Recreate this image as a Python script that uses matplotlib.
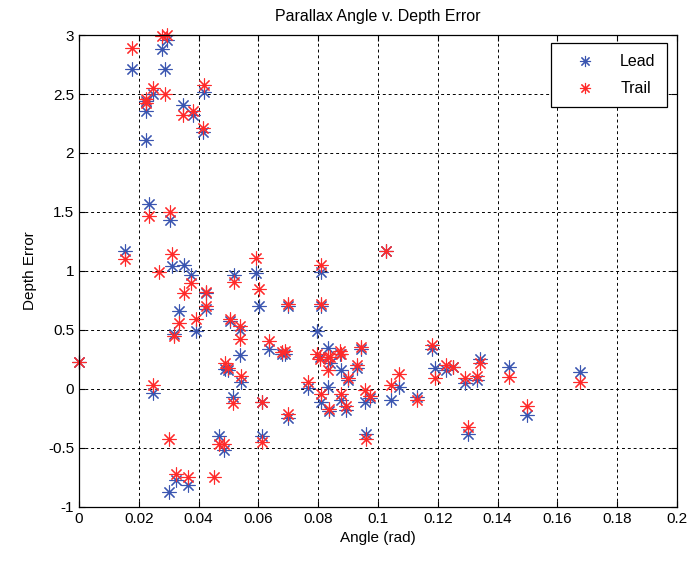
import numpy as np
import matplotlib.pyplot as plt
from matplotlib.ticker import FuncFormatter, MultipleLocator

# angle (rad) with lead / trail depth error
angle = [0.0000, 0.0153, 0.0176, 0.0223, 0.0225, 0.0223, 0.0233, 0.0248, 0.0248, 0.0268,
         0.0276, 0.0287, 0.0296, 0.0300, 0.0303, 0.0312, 0.0317, 0.0324, 0.0334, 0.0348,
         0.0351, 0.0365, 0.0376, 0.0381, 0.0390, 0.0414, 0.0418, 0.0424, 0.0424, 0.0450,
         0.0468, 0.0484, 0.0490, 0.0497, 0.0504, 0.0515, 0.0518, 0.0540, 0.0540, 0.0543,
         0.0593, 0.0603, 0.0613, 0.0613, 0.0634, 0.0680, 0.0690, 0.0700, 0.0700, 0.0766,
         0.0796, 0.0808, 0.0810, 0.0805, 0.0810, 0.0833, 0.0833, 0.0836, 0.0838, 0.0872,
         0.0877, 0.0877, 0.0894, 0.0900, 0.0931, 0.0944, 0.0956, 0.0972, 0.0960, 0.1028,
         0.1045, 0.1069, 0.1130, 0.1180, 0.1190, 0.1229, 0.1250, 0.1290, 0.1300, 0.1332,
         0.1340, 0.1438, 0.1500, 0.1677]
lead = [0.23, 1.17, 2.71, 2.44, 2.36, 2.11, 1.57, 2.50, -0.03, np.nan,
        2.88, 2.71, 2.96, -0.87, 1.43, 1.04, 0.47, -0.77, 0.66, 2.41,
        1.05, -0.81, 0.97, 2.32, 0.49, 2.18, 2.52, 0.81, 0.68, np.nan,
        -0.40, -0.52, 0.17, 0.16, 0.58, -0.065, 0.97, 0.50, 0.29, 0.06,
        0.98, 0.70, -0.11, -0.40, 0.34, 0.30, 0.30, 0.70, -0.25, 0.005,
        0.49, 0.70, 0.99, 0.27, -0.11, 0.345, 0.02, -0.19, 0.22, 0.30,
        0.16, -0.09, -0.18, 0.08, 0.18, 0.34, -0.11, -0.08, -0.38, 1.17,
        -0.09, 0.02, -0.07, 0.34, 0.18, 0.16, 0.19, 0.05, -0.38, 0.08,
        0.25, 0.19, -0.22, 0.14]
trail = [0.23, 1.10, 2.89, 2.46, 2.42, np.nan, 1.47, 2.55, 0.03, 0.99,
         2.99, 2.50, 3.00, -0.42, 1.50, 1.14, 0.45, -0.72, 0.56, 2.32,
         0.81, -0.75, 0.90, 2.36, 0.59, 2.21, 2.58, 0.82, 0.70, -0.75,
         -0.47, -0.47, 0.22, 0.18, 0.59, -0.12, 0.91, 0.53, 0.42, 0.11,
         1.11, 0.85, -0.11, -0.45, 0.41, 0.31, 0.32, 0.72, -0.21, 0.06,
         0.30, 0.72, 1.05, 0.25, -0.04, 0.27, 0.16, -0.17, 0.27, 0.32,
         0.30, -0.04, -0.14, 0.09, 0.20, 0.36, -0.01, -0.06, -0.42, 1.17,
         0.03, 0.13, -0.09, 0.37, 0.09, 0.20, 0.19, 0.09, -0.32, 0.11,
         0.22, 0.10, -0.14, 0.06]

plt.rcParams["font.family"] = ["Liberation Sans", "DejaVu Sans"]

fig = plt.figure(figsize=(6.88, 5.61), dpi=100)
ax = fig.add_axes([0.1148, 0.0963, 0.8692, 0.8413])

star = (8, 2, 0)  # matlab-style asterisk
ax.plot(angle, lead, linestyle="none", marker=star, markersize=10, mew=0.8,
        color="#3a55b0", label="Lead", clip_on=False, zorder=3)
ax.plot(angle, trail, linestyle="none", marker=star, markersize=10, mew=0.8,
        color="#ff2a2a", label="Trail", clip_on=False, zorder=3)

ax.set_xlim(0, 0.2)
ax.set_ylim(-1, 3)
ax.xaxis.set_major_locator(MultipleLocator(0.02))
ax.yaxis.set_major_locator(MultipleLocator(0.5))
fmt = FuncFormatter(lambda v, _: f"{v:.10g}" if abs(v) > 1e-12 else "0")
ax.xaxis.set_major_formatter(fmt)
ax.yaxis.set_major_formatter(fmt)

ax.grid(True, color="black", linestyle=(0, (3, 3)), linewidth=0.7)
ax.tick_params(direction="in", top=True, right=True, length=4, labelsize=11, width=0.8)
for s in ax.spines.values():
    s.set_linewidth(0.9)
    s.set_zorder(4)

ax.set_xlabel("Angle (rad)", fontsize=11)
ax.set_ylabel("Depth Error", fontsize=11, labelpad=8)
ax.set_title("Parallax Angle v. Depth Error", fontsize=11.5, pad=10)

leg = ax.legend(loc="upper right", fontsize=11.5, fancybox=False, edgecolor="black",
                framealpha=1, borderpad=0.7, labelspacing=0.75, handlelength=2.8,
                markerscale=0.8, bbox_to_anchor=(0.983, 0.983), borderaxespad=0)
leg.get_frame().set_linewidth(0.9)
leg.set_zorder(5)

fig.savefig("out.png", dpi=100)
